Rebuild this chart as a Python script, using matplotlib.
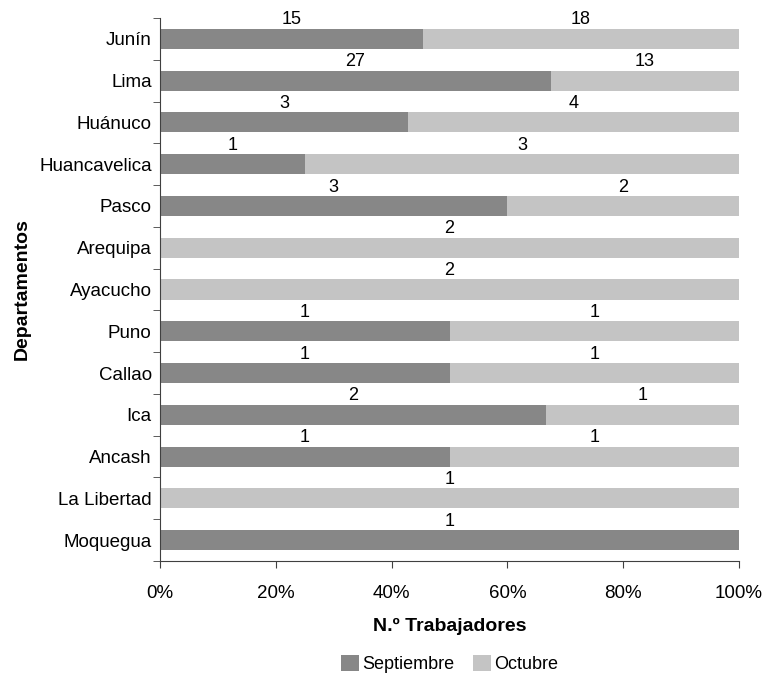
import numpy as np
import matplotlib
matplotlib.use("Agg")
import matplotlib.pyplot as plt
from matplotlib.ticker import PercentFormatter

plt.rcParams['font.family'] = ['Liberation Sans', 'DejaVu Sans']

departamentos = ['Junín', 'Lima', 'Huánuco', 'Huancavelica', 'Pasco', 'Arequipa',
                 'Ayacucho', 'Puno', 'Callao', 'Ica', 'Ancash', 'La Libertad', 'Moquegua']
septiembre = [15, 27, 3, 1, 3, 0, 0, 1, 1, 2, 1, 0, 1]
octubre = [18, 13, 4, 3, 2, 2, 2, 1, 1, 1, 1, 1, 0]

col_sep = '#878787'
col_oct = '#c4c4c4'

sep = np.array(septiembre, dtype=float)
octu = np.array(octubre, dtype=float)
total = sep + octu
p_sep = sep / total * 100
p_oct = octu / total * 100

fig = plt.figure(figsize=(7.68, 6.78), dpi=100)
ax = fig.add_axes([160 / 768, 1 - 561 / 678, 579 / 768, 543 / 678])

y = np.arange(len(departamentos))
h = 0.48
ax.barh(y, p_sep, height=h, color=col_sep, label='Septiembre')
ax.barh(y, p_oct, height=h, left=p_sep, color=col_oct, label='Octubre')

# etiquetas encima de cada segmento
for i in range(len(departamentos)):
    if sep[i] > 0:
        ax.text(p_sep[i] / 2, y[i] - h / 2 - 0.01, f'{int(sep[i])}',
                ha='center', va='bottom', fontsize=13)
    if octu[i] > 0:
        ax.text(p_sep[i] + p_oct[i] / 2, y[i] - h / 2 - 0.01, f'{int(octu[i])}',
                ha='center', va='bottom', fontsize=13)

ax.set_ylim(len(departamentos) - 0.5, -0.5)
ax.set_xlim(0, 100)
ax.set_yticks(y)
ax.set_yticklabels(departamentos, fontsize=13.5)
ax.set_yticks(np.arange(-0.5, len(departamentos)), minor=True)
ax.tick_params(axis='y', which='major', length=0, pad=6)
ax.tick_params(axis='y', which='minor', length=5, color='#404040')
ax.set_xticks([0, 20, 40, 60, 80, 100])
ax.xaxis.set_major_formatter(PercentFormatter(decimals=0))
ax.tick_params(axis='x', length=5, color='#404040', labelsize=13.5, pad=12)

for s in ['top', 'right']:
    ax.spines[s].set_visible(False)
for s in ['left', 'bottom']:
    ax.spines[s].set_color('#404040')

ax.set_xlabel('N.º Trabajadores', fontsize=14, fontweight='bold', labelpad=12)
ax.set_ylabel('Departamentos', fontsize=14, fontweight='bold', labelpad=6)

ax.legend(loc='center', bbox_to_anchor=(0.5, -0.19), ncol=2, frameon=False,
          fontsize=13, handlelength=1.0, handleheight=1.0, handletextpad=0.2,
          columnspacing=1.0)

fig.savefig('out.png', dpi=100)
